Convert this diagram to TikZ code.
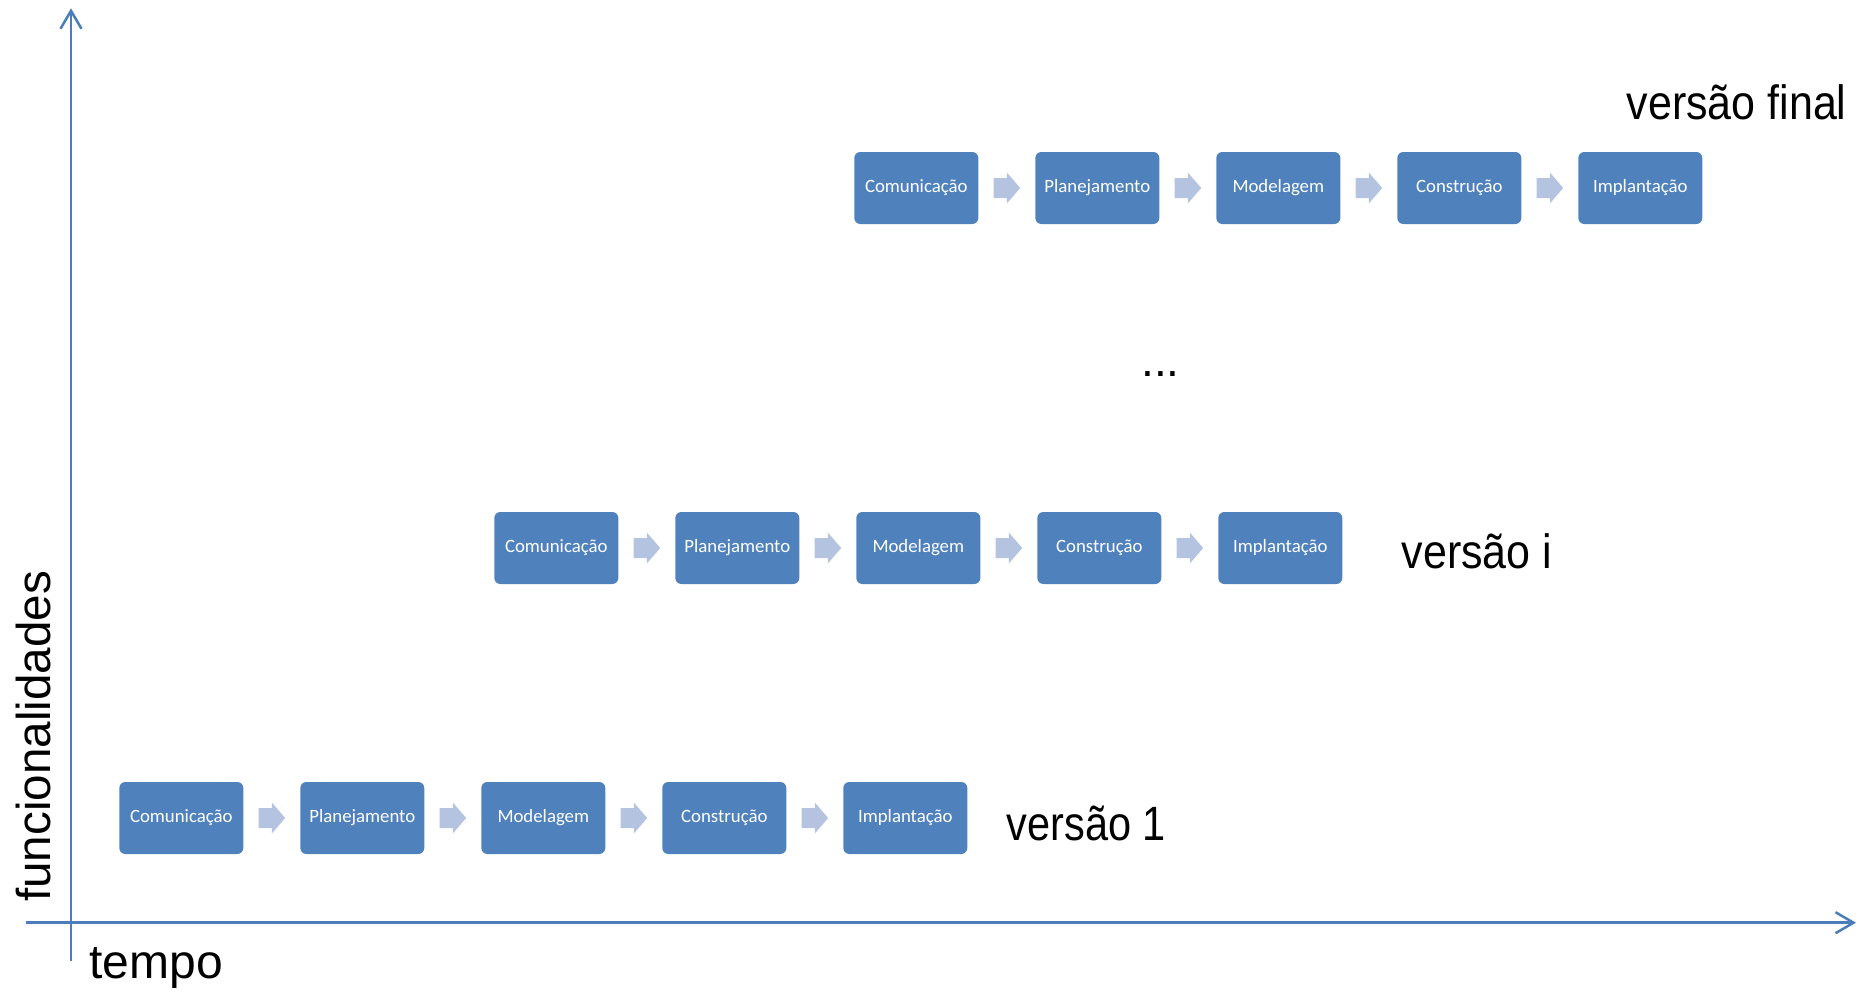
\documentclass[tikz,border=0pt]{standalone}
\usepackage{fontspec}
\usepackage{graphicx}
\setmainfont{Liberation Sans}
\newfontfamily\boxfont{Carlito}
\usetikzlibrary{arrows.meta,calc}
\definecolor{boxblue}{HTML}{4F81BD}
\definecolor{axisblue}{HTML}{4A7EBB}
\definecolor{arrowc}{HTML}{B4C4E0}
\newcommand\flowarr[2]{%
  \path ($(#1.east)!0.5!(#2.west)$) coordinate (m);
  \fill[arrowc] ($(m)+(-13.3,-10)$) -- ($(m)+(0,-10)$) -- ($(m)+(0,-15.5)$) -- ($(m)+(13.4,0)$)
     -- ($(m)+(0,15.5)$) -- ($(m)+(0,10)$) -- ($(m)+(-13.3,10)$) -- cycle;}
\tikzset{
  stage/.style={fill=boxblue, rounded corners=6pt, minimum width=124pt, minimum height=72pt,
     inner sep=0pt, text=white, font=\boxfont\fontsize{18.8}{22}\selectfont},
  axis/.style={draw=axisblue, line width=2.5pt, -{Straight Barb[length=18pt,width=21pt]}},
  lbl/.style={inner sep=0pt, anchor=base west, font=\fontsize{43}{50}\selectfont},
}
\begin{document}
\begin{tikzpicture}[x=1pt,y=-1pt]
\useasboundingbox (0,0) rectangle (1866,991);
\coordinate (yb) at (71,961);
\coordinate (yt) at (71,8.3);
\coordinate (xl) at (26,922.7);
\coordinate (xr) at (1856,922.7);
\draw[axis] (yb) -- (yt);
\draw[axis] (xl) -- (xr);
\foreach \row/\x/\y in {1/181.3/818, 2/556.3/548, 3/916.3/188} {
  \foreach \lab [count=\k from 0] in {Comunicação, Planejamento, Modelagem, Construção, Implantação} {
    \node[stage] (r\row c\k) at (\x+\k*181, \y) {\lab};
  }
  \foreach \k [count=\j from 1] in {0,...,3} {\flowarr{r\row c\k}{r\row c\j}}
}
\node[lbl] (vf) at (1626.5,119) {\scalebox{1}[1.12]{versão final}};
\node[lbl] (vi) at (1401.5,568.3) {\scalebox{1}[1.12]{versão i}};
\node[lbl, font=\fontsize{41.5}{50}\selectfont] (v1) at (1006.5,840) {\scalebox{1}[1.16]{versão 1}};
\node[inner sep=0pt, anchor=base, font=\fontsize{46}{50}\selectfont] (dots) at (1160.5,376) {...};
\node[inner sep=0pt, anchor=base west, font=\fontsize{48}{55}\selectfont] (tempo) at (89.2,978) {tempo};
\node[inner sep=0pt, anchor=base west, rotate=90, font=\fontsize{47.6}{55}\selectfont] (func) at (50,902) {funcionalidades};
\end{tikzpicture}
\end{document}
